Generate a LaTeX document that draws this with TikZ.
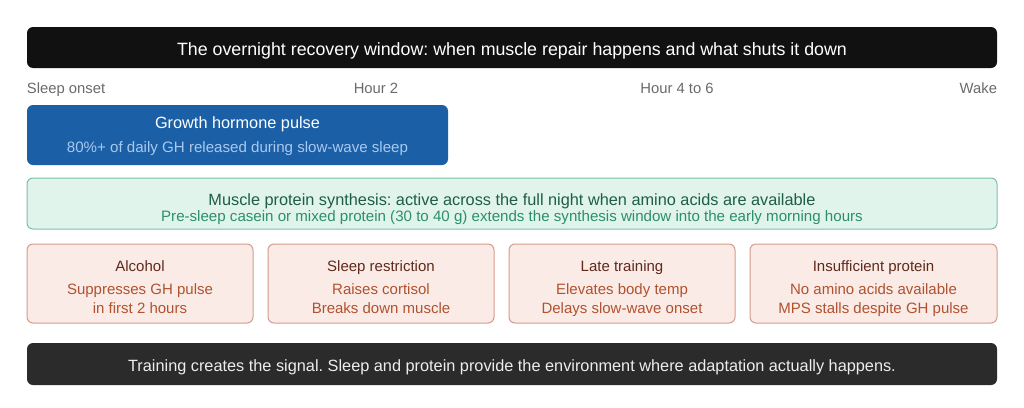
\documentclass[tikz,border=0pt]{standalone}
\usepackage{fontspec}
\setmainfont{Liberation Sans}
\frenchspacing
\definecolor{titlebg}{HTML}{111111}
\definecolor{ghblue}{HTML}{1B5FA6}
\definecolor{ghsub}{HTML}{A9C9EE}
\definecolor{mpsfill}{HTML}{E1F4EC}
\definecolor{mpsdraw}{HTML}{7DBFA6}
\definecolor{mpstitle}{HTML}{1D5E45}
\definecolor{mpssub}{HTML}{2B8F6C}
\definecolor{riskfill}{HTML}{FBEBE7}
\definecolor{riskdraw}{HTML}{D49C8C}
\definecolor{risktitle}{HTML}{5E2A1C}
\definecolor{risktext}{HTML}{B0522F}
\definecolor{footbg}{HTML}{2B2B2B}
\definecolor{timegray}{HTML}{6A6A6A}
\tikzset{
  boxbase/.style={rectangle, rounded corners=6pt, inner sep=0pt, outer sep=0pt, anchor=north west},
  barbox/.style={boxbase, minimum width=970pt, minimum height=41pt},
  ghbox/.style={boxbase, fill=ghblue, minimum width=421pt, minimum height=60pt},
  mpsbox/.style={boxbase, fill=mpsfill, draw=mpsdraw, line width=1pt, minimum width=970pt, minimum height=51pt},
  riskbox/.style={boxbase, fill=riskfill, draw=riskdraw, line width=1pt, minimum width=226pt, minimum height=79pt},
  txt/.style={inner sep=0pt, outer sep=0pt, anchor=base, font=\fontsize{15}{17}\selectfont},
  timelbl/.style={txt, text=timegray, font=\fontsize{14.8}{17}\selectfont},
  risktitlelbl/.style={txt, text=risktitle},
  risktextlbl/.style={txt, text=risktext},
}
\begin{document}
\begin{tikzpicture}[x=1pt,y=-1pt]
\useasboundingbox (0,0) rectangle (1024,407);
% title bar
\node[barbox, fill=titlebg] (title) at (27,27) {};
\node[txt, text=white, font=\fontsize{17.8}{20}\selectfont] (titletxt) at (512,55) {The overnight recovery window: when muscle repair happens and what shuts it down};
% timeline
\node[timelbl, anchor=base west] (t0) at (27,93) {Sleep onset};
\node[timelbl] (t1) at (376,93) {Hour 2};
\node[timelbl] (t2) at (677,93) {Hour 4 to 6};
\node[timelbl, anchor=base east] (t3) at (997,93) {Wake};
% growth hormone
\node[ghbox] (gh) at (27,105) {};
\node[txt, text=white, font=\fontsize{16.3}{18}\selectfont] (ghtitle) at (237.5,128) {Growth hormone pulse};
\node[txt, text=ghsub, font=\fontsize{15.1}{17}\selectfont] (ghsubtxt) at (237.5,152.3) {80\%+ of daily GH released during slow-wave sleep};
% MPS
\node[mpsbox] (mps) at (27,178) {};
\node[txt, text=mpstitle, font=\fontsize{16.3}{18}\selectfont] (mpstitletxt) at (512,205.5) {Muscle protein synthesis: active across the full night when amino acids are available};
\node[txt, text=mpssub, font=\fontsize{15.1}{17}\selectfont] (mpssubtxt) at (512,221.7) {Pre-sleep casein or mixed protein (30 to 40 g) extends the synthesis window into the early morning hours};
% risks
\node[riskbox] (r1) at (27,244) {};
\node[riskbox] (r2) at (268,244) {};
\node[riskbox] (r3) at (509,244) {};
\node[riskbox, minimum width=247pt] (r4) at (750,244) {};
\node[risktitlelbl] (r1t) at (140,271.5) {Alcohol};
\node[risktextlbl] (r1a) at (140,294) {Suppresses GH pulse};
\node[risktextlbl] (r1b) at (140,313.5) {in first 2 hours};
\node[risktitlelbl] (r2t) at (381,271.5) {Sleep restriction};
\node[risktextlbl] (r2a) at (381,294) {Raises cortisol};
\node[risktextlbl] (r2b) at (381,313.5) {Breaks down muscle};
\node[risktitlelbl] (r3t) at (622,271.5) {Late training};
\node[risktextlbl] (r3a) at (622,294) {Elevates body temp};
\node[risktextlbl] (r3b) at (622,313.5) {Delays slow-wave onset};
\node[risktitlelbl] (r4t) at (873.5,271.5) {Insufficient protein};
\node[risktextlbl] (r4a) at (873.5,294) {No amino acids available};
\node[risktextlbl] (r4b) at (873.5,313.5) {MPS stalls despite GH pulse};
% footer
\node[barbox, fill=footbg, minimum height=42pt] (foot) at (27,343) {};
\node[txt, text=white!93!black, font=\fontsize{16.3}{18}\selectfont] (foottxt) at (512,371.3) {Training creates the signal. Sleep and protein provide the environment where adaptation actually happens.};
\end{tikzpicture}
\end{document}
